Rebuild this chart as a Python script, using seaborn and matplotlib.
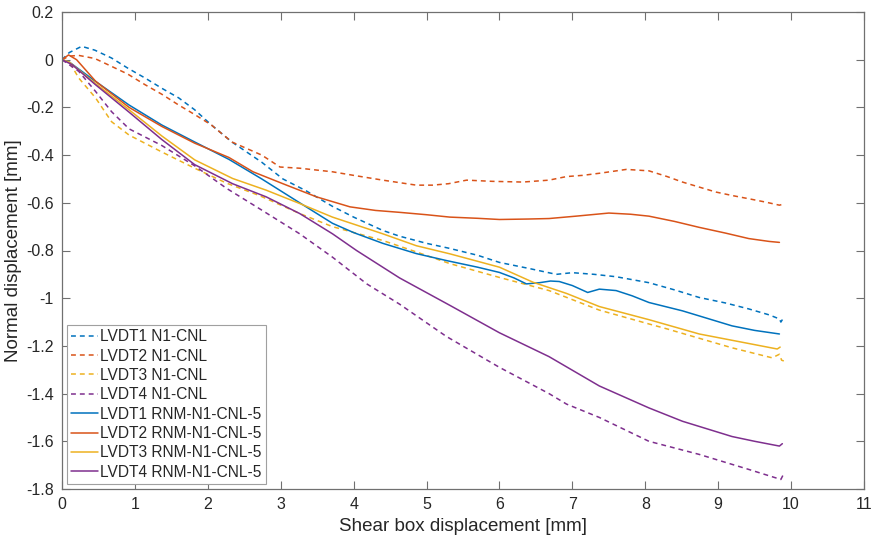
import matplotlib
matplotlib.use("Agg")
import matplotlib.pyplot as plt
import numpy as np
import pandas as pd
import seaborn as sns

# Shear box displacement [mm] and normal displacement [mm] for each LVDT
lvdt1_n1_x = [0, 0.1, 0.27, 0.45, 0.68, 0.9, 1.14, 1.37, 1.6, 1.82, 2.05, 2.33, 2.74, 3.03, 3.35,
              3.71, 4.0, 4.4, 4.63, 5.0, 5.3, 5.7, 6.0, 6.4, 6.78, 7.0, 7.3, 7.6, 8.05, 8.4, 8.74,
              9.1, 9.42, 9.7, 9.84, 9.86, 9.9]
lvdt1_n1_y = [0, 0.03, 0.056, 0.04, 0.007, -0.035, -0.077, -0.12, -0.16, -0.21, -0.274, -0.345,
              -0.43, -0.5, -0.55, -0.615, -0.66, -0.716, -0.74, -0.77, -0.79, -0.82, -0.85, -0.875,
              -0.9, -0.893, -0.9, -0.91, -0.935, -0.965, -0.997, -1.02, -1.045, -1.07, -1.087,
              -1.1, -1.08]

lvdt2_n1_x = [0, 0.1, 0.23, 0.45, 0.68, 0.9, 1.14, 1.37, 1.6, 1.82, 2.05, 2.33, 2.74, 2.99, 3.26,
              3.71, 4.0, 4.4, 4.86, 5.08, 5.3, 5.55, 5.9, 6.32, 6.68, 6.92, 7.14, 7.4, 7.74, 8.05,
              8.3, 8.51, 8.75, 8.97, 9.2, 9.42, 9.65, 9.84, 9.9]
lvdt2_n1_y = [0, 0.015, 0.018, 0.005, -0.028, -0.06, -0.105, -0.145, -0.19, -0.23, -0.274, -0.345,
              -0.4, -0.45, -0.455, -0.47, -0.485, -0.505, -0.526, -0.526, -0.52, -0.505, -0.51,
              -0.513, -0.505, -0.49, -0.485, -0.475, -0.46, -0.466, -0.49, -0.513, -0.535, -0.555,
              -0.57, -0.583, -0.597, -0.61, -0.605]

lvdt3_n1_x = [0, 0.11, 0.23, 0.46, 0.68, 0.92, 1.37, 1.82, 2.26, 2.71, 3.26, 3.71, 4.4, 4.86, 5.32,
              6.0, 6.68, 7.37, 8.05, 8.29, 9.19, 9.74, 9.84, 9.87, 9.9]
lvdt3_n1_y = [0, -0.014, -0.077, -0.16, -0.26, -0.316, -0.387, -0.455, -0.518, -0.57, -0.645, -0.7,
              -0.758, -0.806, -0.855, -0.913, -0.968, -1.05, -1.108, -1.128, -1.208, -1.25, -1.235,
              -1.26, -1.263]

lvdt4_n1_x = [0, 0.23, 0.46, 0.68, 0.92, 1.37, 1.82, 2.26, 2.71, 3.26, 3.71, 4.18, 4.63, 5.08, 5.27,
              6.0, 6.68, 6.92, 7.37, 8.05, 8.74, 9.42, 9.86, 9.9]
lvdt4_n1_y = [0, -0.049, -0.133, -0.218, -0.29, -0.36, -0.445, -0.54, -0.625, -0.73, -0.828, -0.94,
              -1.025, -1.12, -1.16, -1.29, -1.4, -1.444, -1.5, -1.6, -1.655, -1.718, -1.76, -1.735]

lvdt1_rnm_x = [0, 0.1, 0.46, 0.92, 1.37, 1.82, 2.29, 2.74, 3.26, 3.71, 4.0, 4.4, 4.86, 5.27, 5.7, 6.0,
               6.2, 6.37, 6.55, 6.7, 6.82, 7.0, 7.21, 7.37, 7.6, 7.82, 8.05, 8.51, 9.19, 9.5, 9.84]
lvdt1_rnm_y = [0, -0.01, -0.091, -0.19, -0.274, -0.345, -0.418, -0.5, -0.6, -0.686, -0.725, -0.77,
               -0.813, -0.842, -0.87, -0.892, -0.915, -0.94, -0.935, -0.928, -0.93, -0.947, -0.976,
               -0.962, -0.968, -0.99, -1.018, -1.053, -1.116, -1.135, -1.15]

lvdt2_rnm_x = [0, 0.09, 0.2, 0.46, 0.92, 1.37, 1.82, 2.29, 2.62, 3.03, 3.49, 3.95, 4.3, 4.63, 5.0,
               5.32, 5.7, 6.0, 6.4, 6.68, 7.05, 7.5, 7.8, 8.05, 8.4, 8.74, 9.1, 9.42, 9.7, 9.84]
lvdt2_rnm_y = [0, 0.02, 0.0, -0.09, -0.2, -0.28, -0.35, -0.41, -0.47, -0.52, -0.575, -0.617, -0.632,
               -0.64, -0.65, -0.66, -0.665, -0.67, -0.668, -0.666, -0.656, -0.643, -0.648, -0.656,
               -0.678, -0.703, -0.727, -0.75, -0.762, -0.766]

lvdt3_rnm_x = [0, 0.1, 0.46, 0.92, 1.37, 1.82, 2.34, 2.8, 3.26, 3.71, 4.4, 4.86, 5.32, 6.0, 6.46,
               6.92, 7.37, 8.05, 8.74, 9.42, 9.81, 9.85]
lvdt3_rnm_y = [0, -0.01, -0.1, -0.21, -0.32, -0.42, -0.498, -0.547, -0.603, -0.66, -0.73, -0.78,
               -0.814, -0.87, -0.933, -0.98, -1.035, -1.09, -1.15, -1.19, -1.213, -1.205]

lvdt4_rnm_x = [0, 0.14, 0.46, 0.92, 1.37, 1.82, 2.34, 2.8, 3.26, 3.71, 4.04, 4.63, 5.32, 6.0, 6.68,
               7.37, 8.05, 8.51, 9.19, 9.5, 9.84, 9.88]
lvdt4_rnm_y = [0, -0.021, -0.105, -0.22, -0.335, -0.44, -0.52, -0.575, -0.645, -0.73, -0.8, -0.915,
               -1.03, -1.145, -1.245, -1.368, -1.46, -1.516, -1.58, -1.6, -1.62, -1.61]

series_labels = ["LVDT1 N1-CNL", "LVDT2 N1-CNL", "LVDT3 N1-CNL", "LVDT4 N1-CNL",
                 "LVDT1 RNM-N1-CNL-5", "LVDT2 RNM-N1-CNL-5", "LVDT3 RNM-N1-CNL-5",
                 "LVDT4 RNM-N1-CNL-5"]
series_x = [lvdt1_n1_x, lvdt2_n1_x, lvdt3_n1_x, lvdt4_n1_x,
            lvdt1_rnm_x, lvdt2_rnm_x, lvdt3_rnm_x, lvdt4_rnm_x]
series_y = [lvdt1_n1_y, lvdt2_n1_y, lvdt3_n1_y, lvdt4_n1_y,
            lvdt1_rnm_y, lvdt2_rnm_y, lvdt3_rnm_y, lvdt4_rnm_y]

x_ticks = list(range(0, 12))
y_ticks = [0.2, 0, -0.2, -0.4, -0.6, -0.8, -1, -1.2, -1.4, -1.6, -1.8]
y_tick_labels = ["0.2", "0", "-0.2", "-0.4", "-0.6", "-0.8", "-1", "-1.2", "-1.4", "-1.6", "-1.8"]

sensor_colors = ["#0072BD", "#D95319", "#EDB120", "#7E2F8E"]

sns.set_theme(style="white")
plt.rcParams["font.family"] = ["Liberation Sans", "DejaVu Sans"]
plt.rcParams["axes.unicode_minus"] = False

frames = []
for label, xs, ys in zip(series_labels, series_x, series_y):
    frames.append(pd.DataFrame({"x": xs, "y": ys, "series": label}))
data = pd.concat(frames, ignore_index=True)

fig = plt.figure(figsize=(8.77, 5.43), dpi=100)
ax = fig.add_axes([62 / 877, 1 - 489 / 543, 802 / 877, 477 / 543])

for i, label in enumerate(series_labels):
    sub = data[data["series"] == label]
    dashed = i < 4
    sns.lineplot(data=sub, x="x", y="y", ax=ax, sort=False, estimator=None,
                 color=sensor_colors[i % 4], linewidth=1.1, label=label,
                 linestyle=(0, (3.2, 2.6)) if dashed else "-")

ax.set_xlim(0, 11)
ax.set_ylim(-1.8, 0.2)
ax.set_xticks(x_ticks)
ax.set_xticklabels([str(t) for t in x_ticks])
ax.set_yticks(y_ticks)
ax.set_yticklabels(y_tick_labels)

spine_color = "#707070"
for s in ax.spines.values():
    s.set_color(spine_color)
    s.set_linewidth(0.9)
ax.tick_params(direction="in", length=6, width=0.8, color=spine_color,
               top=True, right=True, bottom=True, left=True,
               labelsize=11.5, labelcolor="#262626", pad=6)

ax.set_xlabel("Shear box displacement [mm]", fontsize=13.5, color="#262626", labelpad=4)
ax.set_ylabel("Normal displacement [mm]", fontsize=13.5, color="#262626", labelpad=3)

leg = ax.legend(loc="lower left", fontsize=11.2, handlelength=1.7, handletextpad=0.15,
                labelspacing=0.28, borderpad=0.3, borderaxespad=0.3, frameon=True,
                fancybox=False, edgecolor="#a0a0a0", framealpha=1)
leg.get_frame().set_linewidth(0.8)
for t in leg.get_texts():
    t.set_color("#262626")

fig.savefig("out.png", dpi=100)
